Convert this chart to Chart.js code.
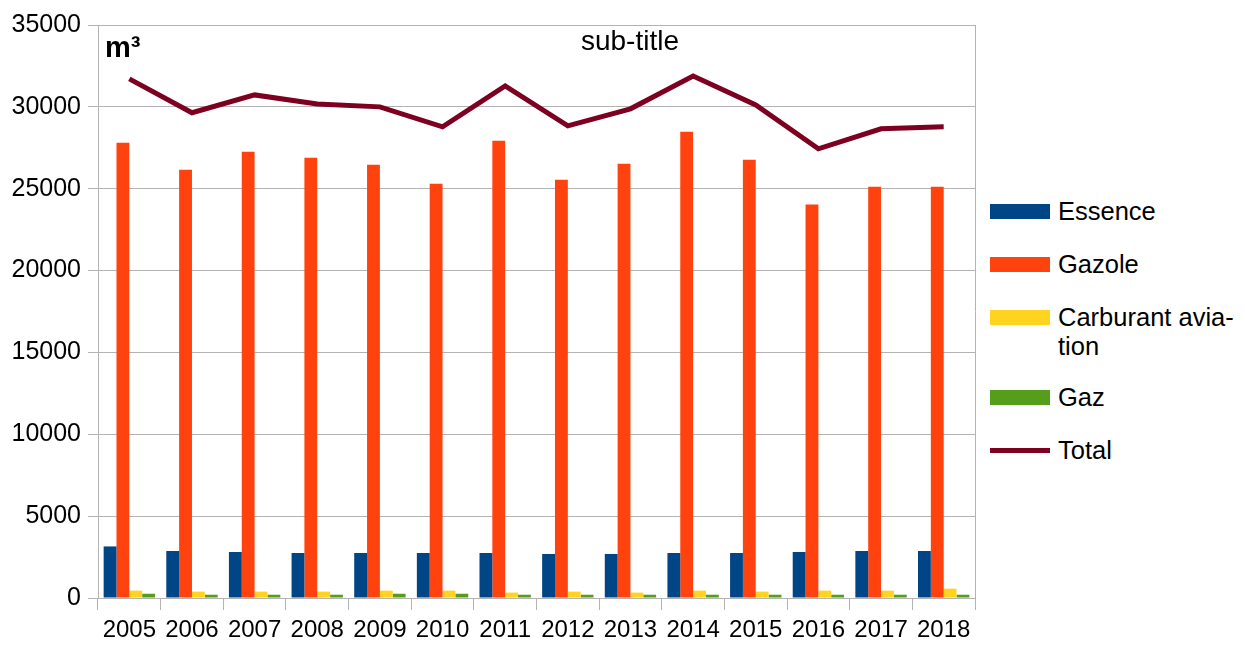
<!DOCTYPE html>
<html>
<head>
<meta charset="utf-8">
<script src="https://cdn.jsdelivr.net/npm/chart.js@4"></script>
<style>
  html, body { margin: 0; padding: 0; background: #fff; }
  body { width: 1245px; height: 646px; position: relative; overflow: hidden; font-family: "Liberation Sans", Arial, sans-serif; }
  #wrap { position: absolute; left: 0; top: 0; width: 990px; height: 646px; }
  #legend { position: absolute; left: 990px; top: 0; width: 255px; font-size: 25.5px; color: #000; }
  .item { position: absolute; left: 0; display: flex; align-items: flex-start; }
  .swatch { width: 60px; height: 15px; margin-right: 8px; flex: none; }
  .label { line-height: 29px; white-space: nowrap; }
</style>
</head>
<body>
<div id="wrap"><canvas id="fuelChart"></canvas></div>
<div id="legend"></div>
<script>
// Data
const years = ["2005", "2006", "2007", "2008", "2009", "2010", "2011", "2012", "2013", "2014", "2015", "2016", "2017", "2018"];
const essence = [3150, 2870, 2810, 2750, 2750, 2750, 2750, 2690, 2690, 2750, 2750, 2810, 2870, 2870];
const gazole = [27810, 26160, 27260, 26890, 26470, 25300, 27930, 25550, 26530, 28480, 26770, 24030, 25120, 25120];
const aviation = [450, 390, 390, 390, 450, 450, 330, 390, 330, 450, 390, 450, 450, 570];
const gaz = [260, 200, 200, 200, 260, 260, 200, 200, 200, 200, 200, 200, 200, 200];
const total = [31710, 29640, 30730, 30180, 30000, 28780, 31280, 28840, 29880, 31890, 30120, 27440, 28660, 28780];
const yTicks = [0, 5000, 10000, 15000, 20000, 25000, 30000, 35000];

const FONT = "'Liberation Sans', Arial, sans-serif";
const GRID = "#b3b3b3";

/*
 * Helper: frame on the right edge, unit and subtitle text
 */
const overlayPlugin = {
  id: "overlay",
  afterDraw(chart) {
    const { ctx, chartArea } = chart;
    ctx.save();
    ctx.strokeStyle = GRID;
    ctx.lineWidth = 1;
    ctx.beginPath();
    ctx.moveTo(chartArea.right + 0.5, chartArea.top);
    ctx.lineTo(chartArea.right + 0.5, chartArea.bottom);
    ctx.stroke();

    ctx.fillStyle = "#000";
    ctx.textBaseline = "alphabetic";
    ctx.font = "bold 29px " + FONT;
    ctx.textAlign = "left";
    ctx.fillText("m³", 105, 57);

    ctx.font = "28px " + FONT;
    ctx.textAlign = "center";
    ctx.fillText("sub-title", 630, 50);
    ctx.restore();
  },
};

function barSet(label, data, color) {
  return {
    type: "bar",
    label,
    data,
    backgroundColor: color,
    borderWidth: 0,
    barPercentage: 1,
    categoryPercentage: 0.82,
    order: 1,
  };
}

const chartData = {
  labels: years,
  datasets: [
    barSet("Essence", essence, "#004586"),
    barSet("Gazole", gazole, "#ff420e"),
    barSet("Carburant aviation", aviation, "#ffd320"),
    barSet("Gaz", gaz, "#579d1c"),
    {
      type: "line",
      label: "Total",
      data: total,
      borderColor: "#7e0021",
      backgroundColor: "#7e0021",
      borderWidth: 5,
      pointRadius: 0,
      tension: 0,
      order: 0,
    },
  ],
};

const chart = new Chart(document.getElementById("fuelChart"), {
  type: "bar",
  data: chartData,
  plugins: [overlayPlugin],
  options: {
    responsive: true,
    maintainAspectRatio: false,
    animation: false,
    layout: { padding: { top: 25, right: 15, left: 0, bottom: 0 } },
    plugins: {
      legend: { display: false },
      tooltip: { enabled: false },
    },
    scales: {
      x: {
        offset: true,
        grid: {
          offset: true,
          drawOnChartArea: false,
          drawTicks: true,
          tickLength: 12,
          color: GRID,
        },
        border: { color: GRID },
        ticks: {
          color: "#000",
          font: { family: FONT, size: 24 },
          padding: 6,
          maxRotation: 0,
          autoSkip: false,
        },
        afterFit(scale) { scale.height = 48; },
      },
      y: {
        min: 0,
        max: 35000,
        afterBuildTicks(scale) { scale.ticks = yTicks.map(v => ({ value: v })); },
        grid: { color: GRID, tickLength: 10 },
        border: { color: GRID },
        ticks: {
          color: "#000",
          font: { family: FONT, size: 25 },
          padding: 7,
          callback: v => String(v),
        },
        afterFit(scale) { scale.width = 98; },
      },
    },
  },
});

/*
 * Helper: HTML legend built from the chart datasets
 */
const legendEl = document.getElementById("legend");
const legendTops = [197, 250, 303, 383, 436];
const legendText = ["Essence", "Gazole", "Carburant avia-<br>tion", "Gaz", "Total"];
chart.data.datasets.forEach((ds, i) => {
  const item = document.createElement("div");
  item.className = "item";
  item.style.top = legendTops[i] + "px";
  const sw = document.createElement("div");
  sw.className = "swatch";
  sw.style.background = ds.type === "line" ? ds.borderColor : ds.backgroundColor;
  if (ds.type === "line") { sw.style.height = "5px"; sw.style.marginTop = "12px"; }
  else { sw.style.marginTop = "7px"; }
  const lb = document.createElement("div");
  lb.className = "label";
  lb.innerHTML = legendText[i];
  item.appendChild(sw);
  item.appendChild(lb);
  legendEl.appendChild(item);
});
</script>
</body>
</html>
